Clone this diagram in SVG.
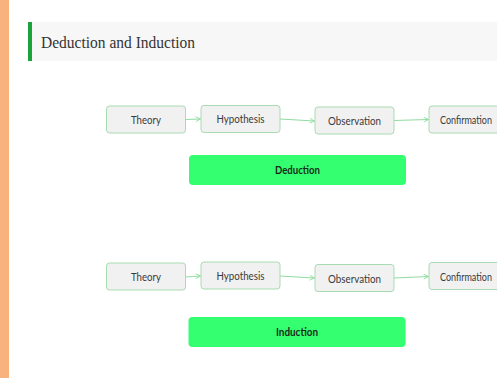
<svg xmlns="http://www.w3.org/2000/svg" width="497" height="378" viewBox="0 0 497 378">
<defs>
<style>
.node rect{fill:#f1f1f1;stroke:#a9dbb3;stroke-width:1}
.node text{font-family:Lato,"Liberation Sans",sans-serif;font-size:11.5px;fill:#3a3a3a;text-anchor:middle}
.btn rect{fill:#33ff70}
.btn text{font-family:Lato,"Liberation Sans",sans-serif;font-size:11px;font-weight:bold;fill:#1a2a1a;text-anchor:middle}
.conn path{fill:none;stroke:#8fdc9f;stroke-width:1}
</style>
<marker id="arr" viewBox="0 0 10 10" refX="9" refY="5" markerWidth="6" markerHeight="6" orient="auto">
<path d="M1,1 L9,5 L1,9" fill="none" stroke="#8fdc9f" stroke-width="1.5"/>
</marker>
</defs>
<rect x="0" y="0" width="497" height="378" fill="#ffffff"/>
<rect x="0" y="0" width="9" height="378" fill="#f7b27e"/>
<g id="title">
<rect x="28" y="22" width="469" height="39" fill="#f7f7f7"/>
<rect x="28" y="22" width="4" height="39" fill="#1aa33a"/>
<text x="41" y="48" font-family="Liberation Serif,serif" font-size="16.5" fill="#333" textLength="154" lengthAdjust="spacingAndGlyphs">Deduction and Induction</text>
</g>
<g class="conn" id="connectors">
<path d="M185,119.5 L200.5,119" marker-end="url(#arr)"/>
<path d="M280,119 L314.5,121" marker-end="url(#arr)"/>
<path d="M394,120.5 L428.5,119.5" marker-end="url(#arr)"/>
<path d="M185,277 L200.5,276" marker-end="url(#arr)"/>
<path d="M280,276 L314.5,278" marker-end="url(#arr)"/>
<path d="M394,278 L428.5,276.5" marker-end="url(#arr)"/>
</g>
<g class="node" id="d-theory"><rect x="106.5" y="106" width="79" height="27" rx="3"/><text x="146" y="124" textLength="30" lengthAdjust="spacingAndGlyphs">Theory</text></g>
<g class="node" id="d-hypothesis"><rect x="201" y="105.5" width="79" height="27" rx="3"/><text x="240.5" y="123" textLength="48" lengthAdjust="spacingAndGlyphs">Hypothesis</text></g>
<g class="node" id="d-observation"><rect x="315" y="107" width="79" height="27" rx="3"/><text x="354.5" y="125" textLength="53" lengthAdjust="spacingAndGlyphs">Observation</text></g>
<g class="node" id="d-confirmation"><rect x="429" y="106" width="79" height="27" rx="3"/><text x="466" y="124" textLength="52" lengthAdjust="spacingAndGlyphs">Confirmation</text></g>
<g class="btn" id="deduction"><rect x="189" y="155" width="217" height="30" rx="4"/><text x="297.5" y="174" textLength="45" lengthAdjust="spacingAndGlyphs">Deduction</text></g>
<g class="node" id="i-theory"><rect x="106.5" y="263" width="79" height="27" rx="3"/><text x="146" y="281" textLength="30" lengthAdjust="spacingAndGlyphs">Theory</text></g>
<g class="node" id="i-hypothesis"><rect x="201" y="262" width="79" height="27" rx="3"/><text x="240.5" y="280" textLength="48" lengthAdjust="spacingAndGlyphs">Hypothesis</text></g>
<g class="node" id="i-observation"><rect x="315" y="264.5" width="79" height="27" rx="3"/><text x="354.5" y="282.5" textLength="53" lengthAdjust="spacingAndGlyphs">Observation</text></g>
<g class="node" id="i-confirmation"><rect x="429" y="262.5" width="79" height="27" rx="3"/><text x="466" y="280.5" textLength="52" lengthAdjust="spacingAndGlyphs">Confirmation</text></g>
<g class="btn" id="induction"><rect x="188.5" y="317" width="217" height="30" rx="4"/><text x="297" y="336" textLength="42" lengthAdjust="spacingAndGlyphs">Induction</text></g>
</svg>
